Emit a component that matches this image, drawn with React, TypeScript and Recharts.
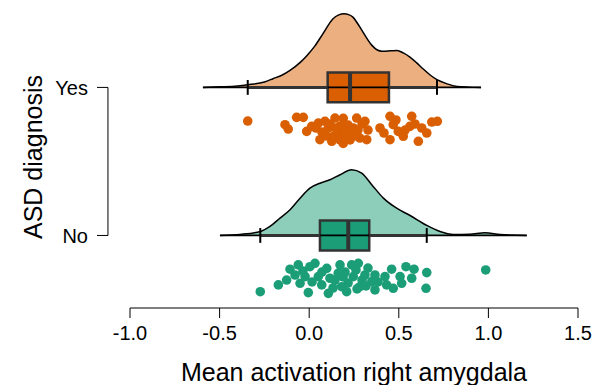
import React from "react";
import {
  ComposedChart, Area, Scatter, XAxis, YAxis, ReferenceLine, ReferenceArea,
} from "recharts";

// groups, bottom to top on the y axis
const CATEGORIES = ["No", "Yes"];
const ROWS = [1, 2];
const FILLS = ["#1B9E77", "#D95F02"];

// boxplot stats per group (No, Yes)
const WHISKER_LO = [-0.273, -0.343];
const BOX_Q1 = [0.06, 0.103];
const BOX_MEDIAN = [0.218, 0.228];
const BOX_Q3 = [0.335, 0.445];
const WHISKER_HI = [0.656, 0.713];

// half-density ("cloud") outline, heights in y-axis units
const NO_DENS_X = [-0.498, -0.386, -0.273, -0.219, -0.163, -0.107, -0.051, 0.004, 0.06, 0.116, 0.172, 0.237, 0.293, 0.349, 0.414, 0.488, 0.563, 0.656, 0.73, 0.804, 0.897, 0.981, 1.065, 1.214];
const NO_DENS_H = [0, 0.007, 0.027, 0.061, 0.117, 0.174, 0.252, 0.32, 0.353, 0.376, 0.41, 0.444, 0.421, 0.343, 0.252, 0.184, 0.135, 0.068, 0.027, 0.007, 0.009, 0.018, 0.007, 0];
const YES_DENS_X = [-0.593, -0.5, -0.4, -0.343, -0.25, -0.202, -0.15, -0.107, -0.05, -0.012, 0.03, 0.077, 0.133, 0.165, 0.194, 0.22, 0.244, 0.27, 0.3, 0.35, 0.38, 0.406, 0.45, 0.49, 0.525, 0.562, 0.6, 0.635, 0.675, 0.713, 0.77, 0.825, 0.89, 0.959];
const YES_DENS_H = [0, 0.004, 0.01, 0.018, 0.037, 0.059, 0.084, 0.115, 0.169, 0.216, 0.277, 0.363, 0.464, 0.49, 0.498, 0.492, 0.475, 0.432, 0.374, 0.284, 0.253, 0.245, 0.247, 0.25, 0.233, 0.205, 0.166, 0.126, 0.084, 0.052, 0.024, 0.007, 0.002, 0];

// raw observations ("rain"), jitter is the vertical offset from the group row
const NO_X = [-0.273, -0.172, -0.126, -0.107, -0.061, -0.051, -0.023, -0.005, 0.004, 0.032, 0.051, 0.07, 0.098, 0.107, 0.116, 0.162, 0.172, 0.181, 0.209, 0.237, 0.246, 0.274, 0.283, 0.311, 0.349, 0.367, 0.367, 0.423, 0.432, 0.46, 0.469, 0.507, 0.516, 0.54, 0.572, 0.585, 0.656, 0.652, 0.985, 0.144, 0.2, 0.217, 0.261, 0.295, 0.328, 0.384, 0.016, 0.071, 0.133, 0.189, 0.267, 0.317, -0.079, -0.035];
const NO_JITTER = [-0.38, -0.334, -0.301, -0.228, -0.199, -0.323, -0.278, -0.386, -0.211, -0.188, -0.278, -0.334, -0.222, -0.391, -0.289, -0.255, -0.199, -0.346, -0.38, -0.199, -0.278, -0.188, -0.346, -0.267, -0.312, -0.267, -0.368, -0.278, -0.334, -0.228, -0.357, -0.278, -0.323, -0.211, -0.289, -0.228, -0.251, -0.357, -0.233, -0.301, -0.247, -0.321, -0.233, -0.301, -0.22, -0.314, -0.314, -0.247, -0.355, -0.28, -0.361, -0.341, -0.267, -0.24];
const YES_X = [-0.343, -0.135, -0.117, -0.07, -0.033, -0.014, 0.014, 0.051, 0.06, 0.088, 0.107, 0.126, 0.144, 0.162, 0.19, 0.19, 0.209, 0.246, 0.265, 0.283, 0.311, 0.321, 0.395, 0.451, 0.451, 0.469, 0.497, 0.525, 0.572, 0.562, 0.609, 0.628, 0.656, 0.684, 0.715, 0.071, 0.116, 0.138, 0.172, 0.217, 0.228, 0.239, 0.272, 0.295, 0.172, 0.094, 0.194, 0.038, 0.328, 0.417, 0.484, 0.535, 0.59, 0.149, 0.256];
const YES_JITTER = [-0.227, -0.252, -0.281, -0.202, -0.202, -0.297, -0.263, -0.241, -0.353, -0.229, -0.274, -0.364, -0.207, -0.308, -0.209, -0.378, -0.32, -0.274, -0.207, -0.342, -0.229, -0.353, -0.274, -0.195, -0.353, -0.252, -0.297, -0.33, -0.195, -0.263, -0.364, -0.274, -0.308, -0.234, -0.229, -0.301, -0.247, -0.328, -0.261, -0.254, -0.355, -0.308, -0.288, -0.247, -0.355, -0.328, -0.288, -0.274, -0.288, -0.308, -0.22, -0.288, -0.247, -0.274, -0.328];

const X_TICKS = [-1, -0.5, 0, 0.5, 1, 1.5];

const BOX_HALF = 0.101;
const CAP_HALF = 0.05;
const AXIS_X = -1.123; // R-style offset y-axis bracket
const FONT = "'Liberation Sans', Arial, Helvetica, sans-serif";

const densities = [
  NO_DENS_X.map((x, i) => ({ x, top: ROWS[0] + NO_DENS_H[i] })),
  YES_DENS_X.map((x, i) => ({ x, top: ROWS[1] + YES_DENS_H[i] })),
];
const points = [
  NO_X.map((x, i) => ({ x, y: ROWS[0] + NO_JITTER[i] })),
  YES_X.map((x, i) => ({ x, y: ROWS[1] + YES_JITTER[i] })),
];
const densRange = [
  [NO_DENS_X[0], NO_DENS_X[NO_DENS_X.length - 1]],
  [YES_DENS_X[0], YES_DENS_X[YES_DENS_X.length - 1]],
];

function GroupTick({ y, payload }: any) {
  const label = CATEGORIES[ROWS.indexOf(payload.value)];
  return (
    <g>
      <line x1={97} x2={108} y1={y} y2={y} stroke="#000" strokeWidth={1} />
      <text x={88} y={y} dy="0.355em" textAnchor="end" fontSize={20} fill="#000">
        {label}
      </text>
    </g>
  );
}

export default function App() {
  return (
    <div style={{ position: "absolute", left: 0, top: 0, fontFamily: FONT, background: "#fff" }}>
      <ComposedChart width={601} height={385} margin={{ top: 6, right: 23, bottom: 0, left: 0 }}>
        <XAxis
          type="number"
          dataKey="x"
          domain={[-1, 1.5]}
          ticks={X_TICKS}
          allowDataOverflow
          tickFormatter={(v: number) => v.toFixed(1)}
          height={77}
          tickSize={10}
          tickMargin={8}
          stroke="#000"
          tick={{ fontSize: 20, fill: "#000" }}
          label={{ value: "Mean activation right amygdala", position: "insideBottom", offset: 4, fontSize: 25, fill: "#000" }}
        />
        <YAxis
          type="number"
          domain={[0.51, 2.55]}
          ticks={ROWS}
          allowDataOverflow
          width={130}
          axisLine={false}
          tickLine={false}
          tickSize={0}
          tickMargin={0}
          tick={<GroupTick />}
          label={{ value: "ASD diagnosis", angle: -90, position: "insideLeft", offset: 33, fontSize: 25, fill: "#000", style: { textAnchor: "middle" } }}
        />
        <ReferenceLine
          segment={[{ x: AXIS_X, y: ROWS[0] }, { x: AXIS_X, y: ROWS[1] }]}
          stroke="#000"
          strokeWidth={1}
          ifOverflow="visible"
        />

        {ROWS.map((row, g) => (
          <Area
            key={"dens" + g}
            data={densities[g]}
            dataKey="top"
            baseValue={row}
            type="monotone"
            stroke="#000"
            strokeWidth={1.5}
            fill={FILLS[g]}
            fillOpacity={0.5}
            dot={false}
            activeDot={false}
            isAnimationActive={false}
          />
        ))}

        {ROWS.map((row, g) => (
          <ReferenceLine
            key={"base" + g}
            segment={[{ x: densRange[g][0], y: row }, { x: densRange[g][1], y: row }]}
            stroke="#000"
            strokeWidth={1.8}
          />
        ))}
        {ROWS.map((row, g) => (
          <ReferenceLine
            key={"wlo" + g}
            segment={[{ x: WHISKER_LO[g], y: row }, { x: BOX_Q1[g], y: row }]}
            stroke="#333"
            strokeWidth={3}
          />
        ))}
        {ROWS.map((row, g) => (
          <ReferenceLine
            key={"whi" + g}
            segment={[{ x: BOX_Q3[g], y: row }, { x: WHISKER_HI[g], y: row }]}
            stroke="#333"
            strokeWidth={3}
          />
        ))}
        {ROWS.map((row, g) => (
          <ReferenceLine
            key={"capl" + g}
            segment={[{ x: WHISKER_LO[g], y: row - CAP_HALF }, { x: WHISKER_LO[g], y: row + CAP_HALF }]}
            stroke="#000"
            strokeWidth={2}
          />
        ))}
        {ROWS.map((row, g) => (
          <ReferenceLine
            key={"caph" + g}
            segment={[{ x: WHISKER_HI[g], y: row - CAP_HALF }, { x: WHISKER_HI[g], y: row + CAP_HALF }]}
            stroke="#000"
            strokeWidth={2}
          />
        ))}
        {ROWS.map((row, g) => (
          <ReferenceArea
            key={"box" + g}
            x1={BOX_Q1[g]}
            x2={BOX_Q3[g]}
            y1={row - BOX_HALF}
            y2={row + BOX_HALF}
            fill={FILLS[g]}
            fillOpacity={1}
            stroke="#333"
            strokeWidth={2.5}
          />
        ))}
        {ROWS.map((row, g) => (
          <ReferenceLine
            key={"med" + g}
            segment={[{ x: BOX_MEDIAN[g], y: row - BOX_HALF }, { x: BOX_MEDIAN[g], y: row + BOX_HALF }]}
            stroke="#333"
            strokeWidth={4}
          />
        ))}

        {ROWS.map((row, g) => (
          <Scatter
            key={"pts" + g}
            data={points[g]}
            dataKey="y"
            isAnimationActive={false}
            shape={(p: any) => <circle cx={p.cx} cy={p.cy} r={4.8} fill={FILLS[g]} />}
          />
        ))}
      </ComposedChart>
    </div>
  );
}
